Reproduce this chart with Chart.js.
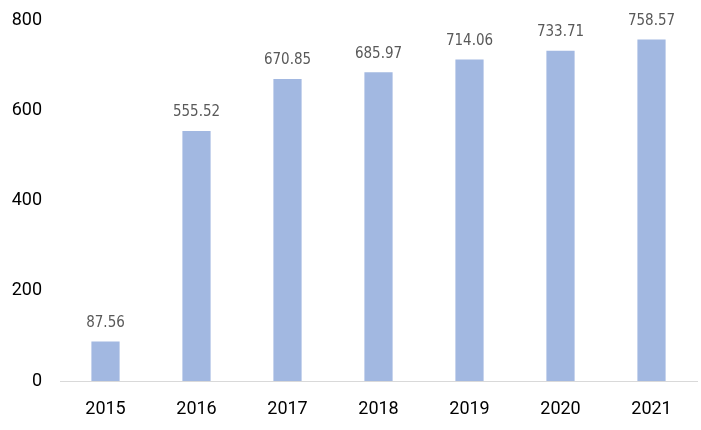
<!DOCTYPE html>
<html>
<head>
<meta charset="utf-8">
<script src="https://cdn.jsdelivr.net/npm/chart.js@4/dist/chart.umd.min.js"></script>
<style>
  html, body { margin: 0; padding: 0; background: #fff; }
  #wrap { width: 701px; height: 430px; }
</style>
</head>
<body>
<div id="wrap"><canvas id="chart" width="701" height="430"></canvas></div>
<script>
const years = ['2015', '2016', '2017', '2018', '2019', '2020', '2021'];
const values = [87.56, 555.52, 670.85, 685.97, 714.06, 733.71, 758.57];
const yTicks = [0, 200, 400, 600, 800];

// Draw the value above each bar
const barLabels = {
    id: 'barLabels',
    afterDatasetsDraw(chart) {
        const ctx = chart.ctx;
        const meta = chart.getDatasetMeta(0);
        ctx.save();
        ctx.font = '15px "Liberation Sans Narrow", "DejaVu Sans Condensed", sans-serif';
        ctx.fillStyle = '#595959';
        ctx.textAlign = 'center';
        ctx.textBaseline = 'bottom';
        meta.data.forEach((bar, i) => {
            ctx.fillText(values[i].toFixed(2), bar.x, bar.y - 11);
        });
        ctx.restore();
    }
};

new Chart(document.getElementById('chart'), {
    type: 'bar',
    data: {
        labels: years,
        datasets: [{
            data: values,
            backgroundColor: '#a2b8e1',
            categoryPercentage: 1,
            barPercentage: 0.31
        }]
    },
    options: {
        responsive: false,
        animation: false,
        layout: { padding: { top: 13, right: 4, left: 0, bottom: 0 } },
        plugins: { legend: { display: false }, tooltip: { enabled: false } },
        scales: {
            x: {
                grid: { display: false },
                border: { color: '#d9d9d9', width: 1 },
                ticks: { color: '#000', font: { size: 18, family: 'Roboto, "Noto Sans", sans-serif' }, padding: 10 },
                afterFit: s => { s.height = 49; }
            },
            y: {
                min: 0,
                max: 800,
                grid: { display: false },
                border: { display: false },
                afterBuildTicks: s => { s.ticks = yTicks.map(v => ({ value: v })); },
                ticks: { color: '#000', font: { size: 18, family: 'Roboto, "Noto Sans", sans-serif' }, padding: 10 },
                afterFit: s => { s.width = 60; }
            }
        }
    },
    plugins: [barLabels]
});
</script>
</body>
</html>
